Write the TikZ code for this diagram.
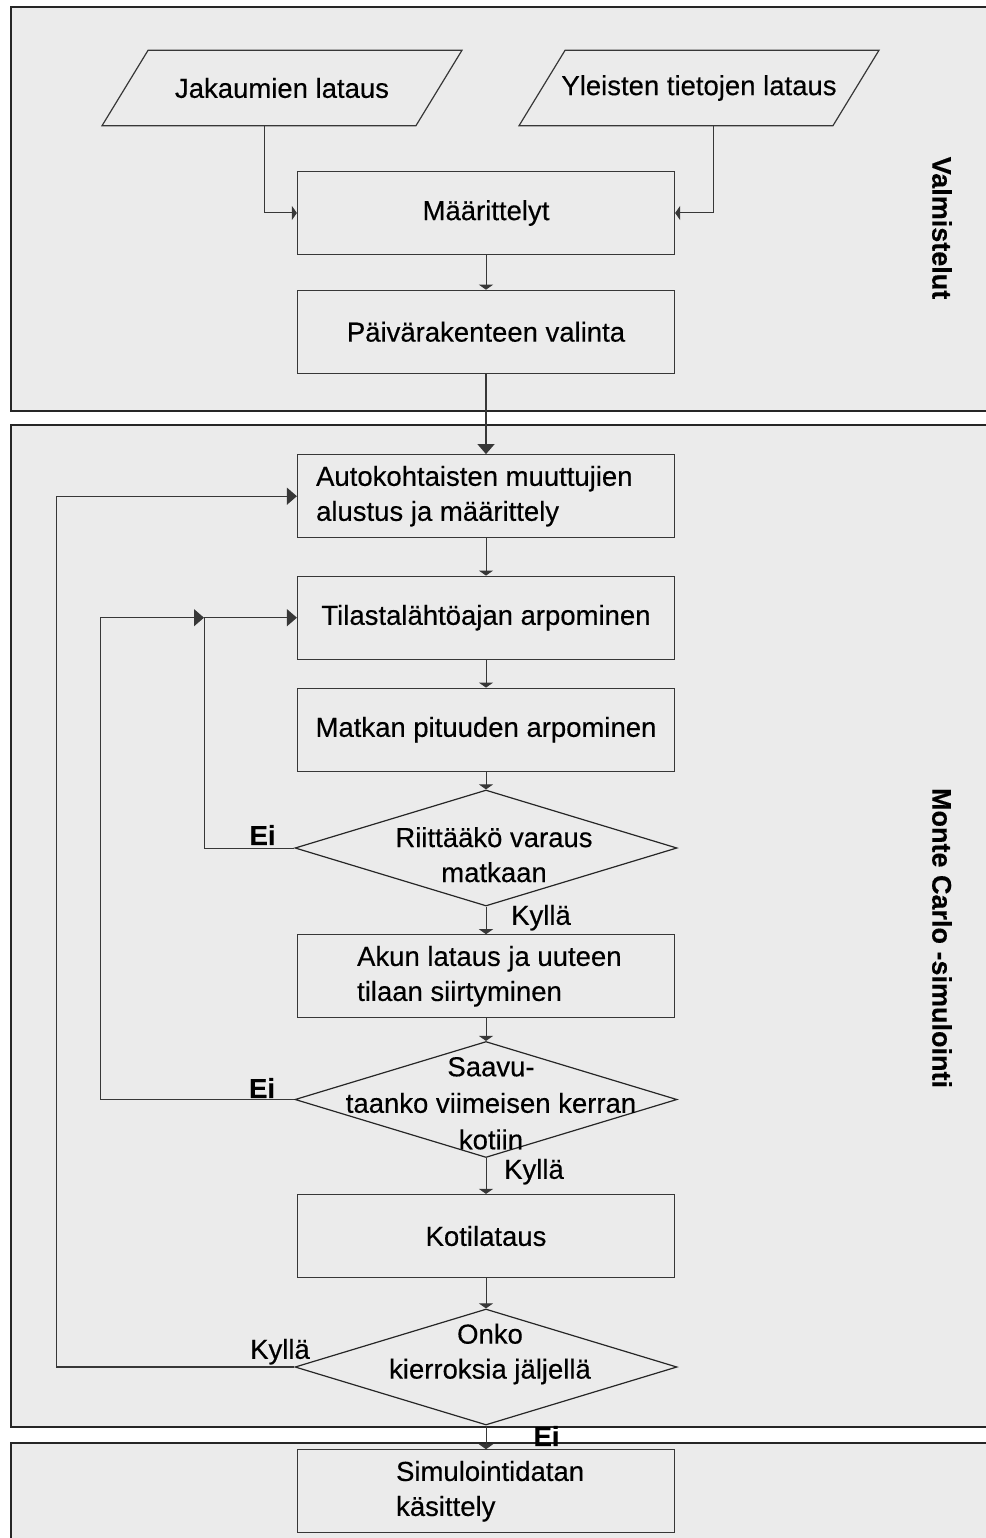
\documentclass[tikz,border=0pt]{standalone}
\usepackage{fontspec}
\setmainfont{Liberation Sans}[FakeBold=0.35]
\usetikzlibrary{shapes.geometric,arrows.meta,calc}
\definecolor{panelgray}{RGB}{235,235,235}
\definecolor{linegray}{RGB}{55,55,55}
\begin{document}
\begin{tikzpicture}[x=1pt,y=-1pt,
  font=\fontsize{27.5}{35}\selectfont,
  panel/.style={draw=black!85, line width=1.6pt, fill=panelgray},
  box/.style={draw=linegray, line width=1.2pt, minimum width=377pt, minimum height=83pt, inner sep=0pt},
  para/.style={draw=linegray, line width=1.2pt},
  dia/.style={diamond, draw=black!85, line width=1.2pt, minimum width=382pt, minimum height=116pt, inner sep=0pt},
  conn/.style={draw=linegray, line width=1pt},
  sarr/.style={conn, -{Triangle[length=5pt,width=14pt]}},
  barr/.style={conn, line width=1.2pt, -{Triangle[length=10pt,width=17pt]}},
  ltext/.style={align=left, anchor=west, inner sep=0pt},
  ctext/.style={align=center, inner sep=0pt},
  boldlab/.style={font=\fontsize{27.5}{35}\selectfont\bfseries, inner sep=0pt},
  lab/.style={inner sep=0pt},
  side/.style={rotate=-90, font=\fontsize{27}{33}\selectfont\bfseries, inner sep=0pt}
]
\useasboundingbox (0,0) rectangle (985,1538);
\fill[white] (0,0) rectangle (985,1538);

% panels
\draw[panel] (10.7,7.3) rectangle (1000,410.7);
\draw[panel] (10.7,425) rectangle (1000,1426.7);
\draw[panel] (10.7,1442.7) rectangle (1000,1570);

% side labels
\node[side] (vl) at (942,228) {Valmistelut};
\node[side] (mc) at (942,938) {Monte Carlo -simulointi};

% input parallelograms
\node[minimum width=313.5pt, minimum height=75pt, inner sep=0pt] (j) at (282,88) {Jakaumien lataus};
\draw[para] ($(j.north west)+(23,0)$) -- ($(j.north east)+(23,0)$) -- ($(j.south east)+(-23,0)$) -- ($(j.south west)+(-23,0)$) -- cycle;
\node[minimum width=313.5pt, minimum height=75pt, inner sep=0pt] (yl) at (699,88) {\raisebox{3pt}{Yleisten tietojen lataus}};
\draw[para] ($(yl.north west)+(23,0)$) -- ($(yl.north east)+(23,0)$) -- ($(yl.south east)+(-23,0)$) -- ($(yl.south west)+(-23,0)$) -- cycle;

% boxes and decisions
\node[box] (m) at (486,213) {Määrittelyt};
\node[box] (p) at (486,331.8) {Päivärakenteen valinta};
\node[box] (a) at (486,496.2) {};
\node[ltext] (at) at ($(a.west)+(19,0)$) {Autokohtaisten muuttujien\\alustus ja määrittely};
\node[box] (t) at (486,617.7) {Tilastalähtöajan arpominen};
\node[box] (mk) at (486,729.7) {Matkan pituuden arpominen};
\node[dia] (d1) at (486,848) {};
\node[ctext] (d1t) at (494,854.7) {Riittääkö varaus\\matkaan};
\node[box] (ak) at (486,976.3) {};
\node[ltext] (akt) at ($(ak.west)+(60,0)$) {Akun lataus ja uuteen\\tilaan siirtyminen};
\node[dia] (d2) at (486,1099.5) {};
\node[ctext, font=\fontsize{27.5}{36.5}\selectfont] (d2t) at (491,1103.3) {Saavu-\\taanko viimeisen kerran\\kotiin};
\node[box] (k) at (486,1236) {Kotilataus};
\node[dia] (d3) at (486,1367) {};
\node[ctext] (d3t) at (490,1354) {Onko\\kierroksia jäljellä};
\node[box] (s) at (486,1491.3) {};
\node[ltext] (st) at ($(s.west)+(99,0)$) {Simulointidatan\\käsittely};

% labels
\node[boldlab] (ei1) at (262.6,835) {Ei};
\node[lab] (ky1) at (541,917.7) {Kyllä};
\node[boldlab] (ei2) at (262,1088) {Ei};
\node[lab] (ky2) at (534,1171.7) {Kyllä};
\node[lab] (ky3) at (280,1351.7) {Kyllä};
\node[boldlab] (ei3) at (546.5,1436) {Ei};

% connectors
\draw[sarr] ($(j.south)+(-17.5,0)$) |- (m.west);
\draw[sarr] ($(yl.south)+(14.6,0)$) |- (m.east);
\draw[sarr] (m.south) -- (p.north);
\draw[barr] (p.south) -- (a.north);
\draw[sarr] (a.south) -- (t.north);
\draw[sarr] (t.south) -- (mk.north);
\draw[sarr] (mk.south) -- (d1.north);
\draw[sarr] (d1.south) -- (ak.north);
\draw[sarr] (ak.south) -- (d2.north);
\draw[sarr] (d2.south) -- (k.north);
\draw[sarr] (k.south) -- (d3.north);
\draw[sarr] (d3.south) -- (s.north);

% loops
\coordinate (ol) at (56.5,1367);
\draw[barr] (d3.west) -- (ol) |- (a.west);
\coordinate (ml) at (100.5,1099.5);
\coordinate (jn) at (204,617.7);
\draw[barr] (d2.west) -- (ml) |- (jn);
\draw[barr] (jn) -- (t.west);
\draw[conn] (d1.west) -| (jn);
\end{tikzpicture}
\end{document}
